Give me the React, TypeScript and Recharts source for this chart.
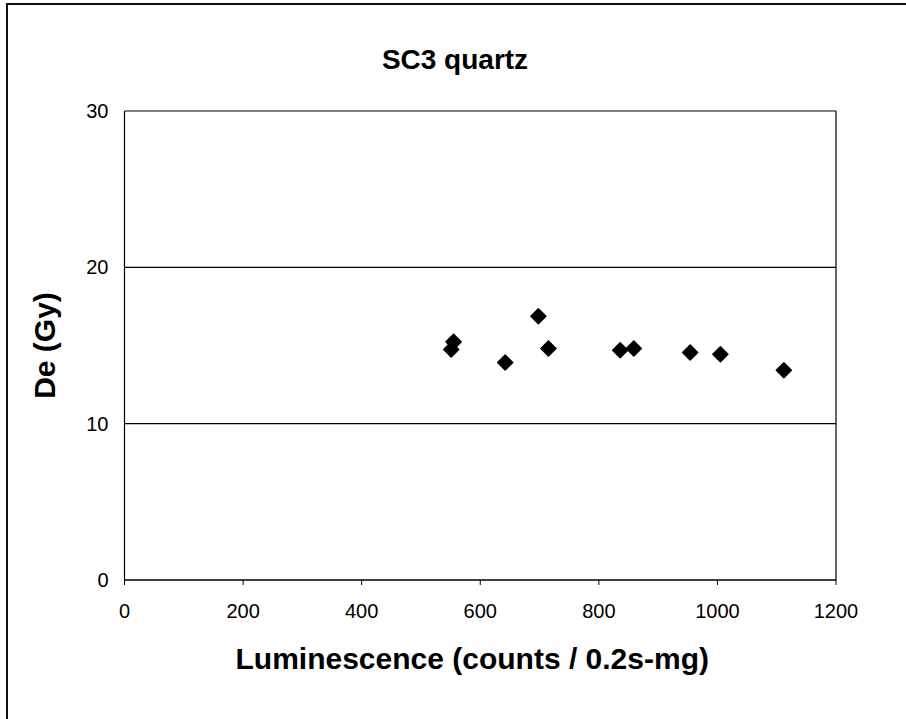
import React from 'react'
import { ScatterChart, Scatter, XAxis, YAxis, CartesianGrid, ReferenceLine } from 'recharts'

// readings taken off the scanned figure
const luminescence = [551, 555, 642, 698, 715, 836, 859, 954, 1005, 1112]
const deGy = [14.74, 15.23, 13.91, 16.87, 14.81, 14.7, 14.81, 14.55, 14.44, 13.42]
const xTicks = [0, 200, 400, 600, 800, 1000, 1200]
const yTicks = [0, 10, 20, 30]

const points = luminescence.map((x, i) => ({ x, y: deGy[i] }))

const font = '"Liberation Sans", Arial, sans-serif'

// rounded-ish black diamond, like the Excel marker
const Diamond = (props: any) => {
  const { cx, cy } = props
  const r = 7.5
  return (
    <path
      d={`M${cx},${cy - r} L${cx + r},${cy} L${cx},${cy + r} L${cx - r},${cy} Z`}
      fill="#000"
      stroke="#000"
      strokeWidth={1.5}
      strokeLinejoin="round"
    />
  )
}

const YTitle = (props: any) => {
  const vb = props.viewBox
  const cx = vb.x + 44
  const cy = vb.y + vb.height / 2
  return (
    <text
      x={cx}
      y={cy}
      transform={`rotate(-90, ${cx}, ${cy})`}
      textAnchor="middle"
      dominantBaseline="central"
      fontFamily={font}
      fontWeight="bold"
      fontSize={30}
      fill="#000"
    >
      De (Gy)
    </text>
  )
}

export default function App() {
  return (
    <div style={{ position: 'absolute', left: 0, top: 0, width: 906, height: 719, background: '#fff' }}>
      <div style={{ position: 'absolute', left: 6, top: 3, width: 900, height: 2, background: '#111' }} />
      <div style={{ position: 'absolute', left: 6, top: 3, width: 2, height: 716, background: '#111' }} />
      <div
        style={{
          position: 'absolute',
          left: 0,
          top: 44,
          width: 910,
          textAlign: 'center',
          fontFamily: font,
          fontWeight: 'bold',
          fontSize: 28,
          color: '#000',
        }}
      >
        SC3 quartz
      </div>
      <div style={{ position: 'absolute', left: 0, top: 0 }}>
        <ScatterChart width={906} height={719} margin={{ top: 111, right: 70, bottom: 0, left: 0 }}>
          <CartesianGrid vertical={false} stroke="#000" strokeWidth={1.2} />
          <XAxis
            type="number"
            dataKey="x"
            domain={[0, 1200]}
            ticks={xTicks}
            interval={0}
            height={139}
            tickSize={5}
            tickMargin={19}
            axisLine={{ stroke: '#000', strokeWidth: 1.2 }}
            tickLine={{ stroke: '#000' }}
            tick={{ fill: '#000', fontSize: 20, fontFamily: font }}
            label={{
              value: 'Luminescence (counts / 0.2s-mg)',
              position: 'insideTop',
              offset: 68,
              dx: -8,
              fill: '#000',
              fontSize: 30,
              fontWeight: 'bold',
              fontFamily: font,
            }}
          />
          <YAxis
            type="number"
            dataKey="y"
            domain={[0, 30]}
            ticks={yTicks}
            interval={0}
            width={124.5}
            tickSize={8}
            tickMargin={8}
            tickLine={false}
            axisLine={{ stroke: '#000', strokeWidth: 1.2 }}
            tick={{ fill: '#000', fontSize: 20, fontFamily: font }}
            label={{ content: YTitle }}
          />
          <ReferenceLine x={1200} stroke="#000" strokeWidth={1.2} />
          <Scatter data={points} fill="#000" shape={Diamond} isAnimationActive={false} />
        </ScatterChart>
      </div>
    </div>
  )
}
